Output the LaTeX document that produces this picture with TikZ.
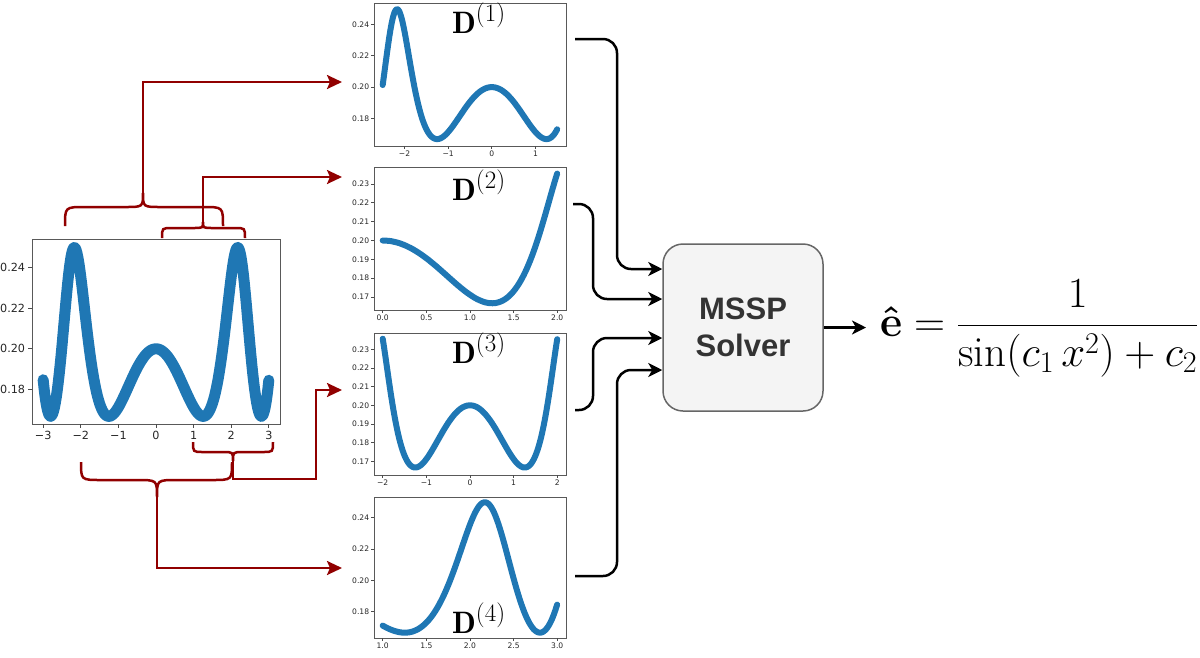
\documentclass[tikz,border=0pt]{standalone}
\usepackage{fix-cm}
\usepackage{amsmath}
\usepackage{fontspec}
\newfontfamily\tickfont{DejaVu Sans}
\newfontfamily\solverfont{Liberation Sans}
\usetikzlibrary{arrows.meta}
\definecolor{curveblue}{HTML}{1F77B4}
\definecolor{bracered}{RGB}{145,0,0}
\definecolor{solverfill}{HTML}{F4F4F4}
\newcommand{\piecelabel}[1]{$\mathbf{D}^{\text{\fontsize{25}{25}\selectfont(#1)}}$}

\begin{document}
\begin{tikzpicture}[x=1pt, y=-1pt,
	frame/.style={draw=black!65, line width=1pt, minimum width=192, minimum height=143, inner sep=0},
	curveline/.style={curveblue, line width=6pt, line cap=round, line join=round},
	tick/.style={black!70, line width=0.8pt},
	ticklabel/.style={font=\tickfont\fontsize{7.6}{8}\selectfont, text=black!85, inner sep=1.5pt},
	bigticklabel/.style={ticklabel, font=\tickfont\fontsize{11.2}{12}\selectfont, inner sep=2.5pt},
	brace/.style={bracered, line width=2.5pt},
	redarrow/.style={brace, -{Stealth[length=15pt, width=14pt, inset=3pt]}},
	flow/.style={black, line width=2.5pt, rounded corners=14pt, -{Stealth[length=14pt, width=14pt, inset=4pt]}},
	dlabel/.style={font=\fontsize{31}{31}\selectfont, anchor=base west, inner sep=0}]
	\useasboundingbox (0,0) rectangle (1200,657);

	% full curve
	\node[frame, minimum width=248, minimum height=185] (main) at (156,331.5) {};
	\draw[curveline, line width=11pt] plot[domain=-3:3, samples=241] ({156+37.62*\x}, {348.8-2027*(1/(sin((\x)*(\x) r)+5)-0.2)});
	\foreach \v/\t in {-3/−3,-2/−2,-1/−1,0/0,1/1,2/2,3/3}
		\draw[tick] ({156+37.62*\v},424) -- ++(0,4) node[bigticklabel, anchor=north] {\t};
	\foreach \v in {0.18,0.20,0.22,0.24}
		\draw[tick] (32,{348.8-2027*(\v-0.2)}) -- ++(-4,0) node[bigticklabel, anchor=east] {\v};

	% D1
	\node[frame] (d1) at (470,74.5) {};
	\draw[curveline] plot[domain=-2.5:1.5, samples=160] ({491.8+43.64*\x}, {87.1-1560*(1/(sin((\x)*(\x) r)+5)-0.2)});
	\foreach \v/\t in {-2/−2,-1/−1,0/0,1/1}
		\draw[tick] ({491.8+43.64*\v},146) -- ++(0,3) node[ticklabel, anchor=north] {\t};
	\foreach \v in {0.18,0.20,0.22,0.24}
		\draw[tick] (374,{87.1-1560*(\v-0.2)}) -- ++(-3,0) node[ticklabel, anchor=east] {\v};
	\node[dlabel] (lab1) at (452,33) {\piecelabel{1}};

	% D2
	\node[frame] (d2) at (470,238.5) {};
	\draw[curveline] plot[domain=0:2, samples=120] ({382.7+87.27*\x}, {240.5-1883*(1/(sin((\x)*(\x) r)+5)-0.2)});
	\foreach \v/\t in {0/0.0,0.5/0.5,1/1.0,1.5/1.5,2/2.0}
		\draw[tick] ({382.7+87.27*\v},310) -- ++(0,3) node[ticklabel, anchor=north] {\t};
	\foreach \v in {0.17,0.18,0.19,0.20,0.21,0.22,0.23}
		\draw[tick] (374,{240.5-1883*(\v-0.2)}) -- ++(-3,0) node[ticklabel, anchor=east] {\v};
	\node[dlabel] (lab2) at (452,200) {\piecelabel{2}};

	% D3
	\node[frame, minimum height=142] (d3) at (470,404) {};
	\draw[curveline] plot[domain=-2:2, samples=160] ({470+43.64*\x}, {405.3-1867*(1/(sin((\x)*(\x) r)+5)-0.2)});
	\foreach \v/\t in {-2/−2,-1/−1,0/0,1/1,2/2}
		\draw[tick] ({470+43.64*\v},475) -- ++(0,3) node[ticklabel, anchor=north] {\t};
	\foreach \v in {0.17,0.18,0.19,0.20,0.21,0.22,0.23}
		\draw[tick] (374,{405.3-1867*(\v-0.2)}) -- ++(-3,0) node[ticklabel, anchor=east] {\v};
	\node[dlabel] (lab3) at (452,363) {\piecelabel{3}};

	% D4
	\node[frame, minimum height=141] (d4) at (470,567.5) {};
	\draw[curveline] plot[domain=1:3, samples=120] ({295.4+87.27*\x}, {580.5-1565*(1/(sin((\x)*(\x) r)+5)-0.2)});
	\foreach \v/\t in {1/1.0,1.5/1.5,2/2.0,2.5/2.5,3/3.0}
		\draw[tick] ({295.4+87.27*\v},638) -- ++(0,3) node[ticklabel, anchor=north] {\t};
	\foreach \v in {0.18,0.20,0.22,0.24}
		\draw[tick] (374,{580.5-1565*(\v-0.2)}) -- ++(-3,0) node[ticklabel, anchor=east] {\v};
	\node[dlabel] (lab4) at (452,633) {\piecelabel{4}};

	% braces over and under the full curve
	\coordinate (cusp1) at (143,193);
	\coordinate (cusp2) at (203,222);
	\coordinate (cusp3) at (233,461);
	\coordinate (cusp4) at (157,497);
	\coordinate (in1) at (342,82);
	\coordinate (in2) at (342,177);
	\coordinate (in3) at (342,390);
	\coordinate (in4) at (342,568);
	\draw[brace] (65,226) .. controls (65,207) .. (85,207) -- (125,207) .. controls (143,207) .. (cusp1) .. controls (143,207) .. (161,207) -- (203,207) .. controls (223,207) .. (223,226);
	\draw[brace] (162,238) .. controls (162,228) .. (172,228) -- (193,228) .. controls (203,228) .. (cusp2) .. controls (203,228) .. (213,228) -- (235,228) .. controls (245,228) .. (245,238);
	\draw[brace] (193,442) .. controls (193,452) .. (203,452) -- (223,452) .. controls (233,452) .. (cusp3) .. controls (233,452) .. (243,452) -- (263,452) .. controls (273,452) .. (273,442);
	\draw[brace] (81,462) .. controls (81,480) .. (101,480) -- (137,480) .. controls (157,480) .. (cusp4) .. controls (157,480) .. (177,480) -- (212,480) .. controls (232,480) .. (232,462);
	\draw[redarrow] (cusp1) |- (in1);
	\draw[redarrow] (cusp2) |- (in2);
	\draw[redarrow] (cusp3) |- (316,479) |- (in3);
	\draw[redarrow] (cusp4) |- (in4);

	% solver
	\node[draw=black!60, fill=solverfill, line width=1.5pt, rounded corners=20pt, minimum width=160, minimum height=167, align=center, text=black!80, font=\solverfont\bfseries\fontsize{31}{37}\selectfont] (solver) at (743,327.5) {MSSP\\Solver};
	\coordinate (d1out) at (575,39);
	\coordinate (d2out) at (573,204);
	\coordinate (d3out) at (575,410);
	\coordinate (d4out) at (575,576);
	\draw[flow] (d1out) -- ++(42,0) |- ([yshift=58.5pt]solver.west);
	\draw[flow] (d2out) -- ++(20,0) |- ([yshift=28.5pt]solver.west);
	\draw[flow] (d3out) -- ++(18,0) |- ([yshift=-10.5pt]solver.west);
	\draw[flow] (d4out) -- ++(42,0) |- ([yshift=-42.5pt]solver.west);

	% result
	\node[anchor=base west, inner sep=0, font=\fontsize{43}{43}\selectfont] (eq) at (880,336.7) {$\boldsymbol{\hat{\mathbf{e}}} = \dfrac{1}{\sin(c_1\,x^2)+c_2}$};
	\draw[flow, shorten >=14pt] (solver.east) -- (solver.east -| eq.west);
\end{tikzpicture}
\end{document}
